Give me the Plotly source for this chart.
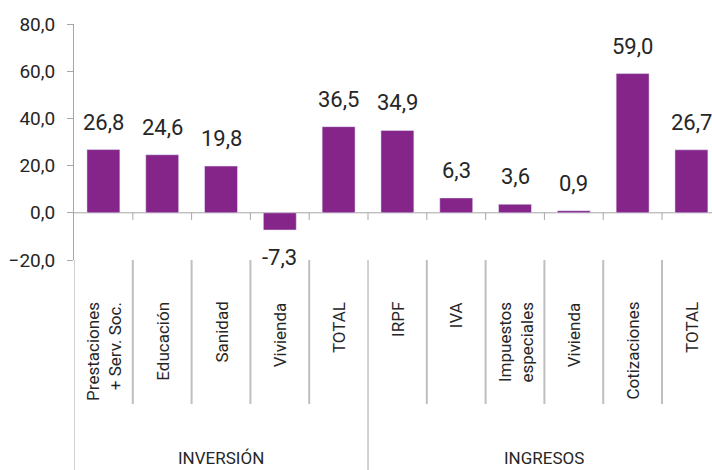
import plotly.graph_objects as go

categories = ["Prestaciones<br>+ Serv. Soc.", "Educación", "Sanidad", "Vivienda", "TOTAL",
              "IRPF", "IVA", "Impuestos<br>especiales", "Vivienda", "Cotizaciones", "TOTAL"]
values = [26.8, 24.6, 19.8, -7.3, 36.5, 34.9, 6.3, 3.6, 0.9, 59.0, 26.7]
groups = ["INVERSIÓN", "INGRESOS"]
group_sizes = [5, 6]
y_ticks = [-20, 0, 20, 40, 60, 80]

FONT = "Roboto, sans-serif"
BAR = "#85258A"
TXT = "#262626"
AX = "#A6A6A6"
SEP = "#BFBFBF"

x = list(range(len(values)))
fig = go.Figure(go.Bar(x=x, y=values, marker_color=BAR, hoverinfo="skip"))

# plot area: top 24px (80) .. bottom 260px (-20); figure height 470
H, T, B = 470, 24, 210
PH = H - T - B
def py(p):
    return (H - B - p) / PH

ann = []
# data labels
for xi, v in zip(x, values):
    ann.append(dict(x=xi, y=v, xref="x", yref="y", text=f"{v:.1f}".replace(".", ","),
                    showarrow=False, yanchor="bottom" if v >= 0 else "top",
                    yshift=13 if v >= 0 else -13,
                    font=dict(family=FONT, size=22, color=TXT)))
# category labels
for xi, c in zip(x, categories):
    ann.append(dict(x=xi, y=py(300), xref="x", yref="paper", text=c, textangle=-90,
                    showarrow=False, yanchor="top", xanchor="center", align="right",
                    font=dict(family=FONT, size=17, color=TXT)))
shapes = []
# group labels and separators
start = 0
for g, n in zip(groups, group_sizes):
    ann.append(dict(x=start + (n - 1) / 2, y=py(458), xref="x", yref="paper", text=g,
                    showarrow=False, yanchor="middle",
                    font=dict(family=FONT, size=17, color=TXT)))
    shapes.append(dict(type="line", xref="x", yref="paper", x0=start - 0.5, x1=start - 0.5,
                       y0=py(260) if start > 0 else 0, y1=py(472), line=dict(color=AX, width=1)))
    for k in range(1, n):
        b = start + k - 0.5
        shapes.append(dict(type="line", xref="x", yref="paper", x0=b, x1=b,
                           y0=py(260), y1=py(404), line=dict(color=SEP, width=2)))
    start += n
# zero line and boundary ticks
shapes.append(dict(type="line", xref="paper", yref="y", x0=0, x1=1, y0=0, y1=0,
                   line=dict(color=AX, width=1), layer="below"))
for b in range(len(values)):
    shapes.append(dict(type="line", xref="x", yref="y", x0=b + 0.5, x1=b + 0.5,
                       y0=0, y1=-3, line=dict(color=AX, width=1)))

fig.update_layout(
    width=712, height=H, margin=dict(l=74, r=0, t=T, b=B, autoexpand=False),
    paper_bgcolor="white", plot_bgcolor="white", showlegend=False,
    separators=",.", bargap=0.44,
    annotations=ann, shapes=shapes,
    xaxis=dict(range=[-0.5, 10.35], showticklabels=False, showgrid=False, zeroline=False,
               showline=False, ticks="", automargin=False),
    yaxis=dict(range=[-20, 80], tickvals=y_ticks, tickformat=".1f", showgrid=False,
               zeroline=False, showline=True, linecolor=AX, linewidth=1, automargin=False,
               ticks="outside", ticklen=6, tickcolor=AX, ticklabelstandoff=8,
               tickfont=dict(family=FONT, size=19, color=TXT)),
)
fig.write_html("out.html", config={"displayModeBar": False},
               post_script="document.body.style.margin='0';")
